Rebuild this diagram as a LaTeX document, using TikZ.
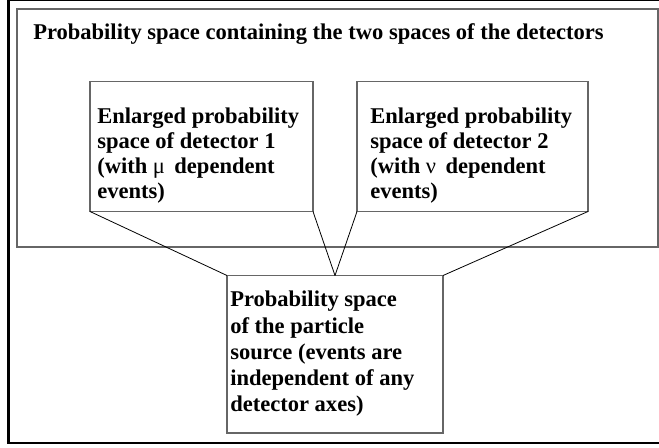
\documentclass[tikz,border=0pt]{standalone}
\usepackage{fontspec}
\setmainfont{Liberation Serif}

\begin{document}
\begin{tikzpicture}
    [
      x=0.75pt, y=-0.75pt,
      box/.style={draw=black!60, line width=0.8pt, inner sep=0pt, outer sep=0pt},
      txt/.style={anchor=north west, inner sep=0pt, align=left,
                  font=\bfseries\fontsize{16.9pt}{18.7pt}\selectfont},
      link/.style={black, line width=0.6pt},
    ]
    %
    \useasboundingbox (0, 0) rectangle (659, 448);
    \draw [black, line width=2.2pt] (8.5, 0) rectangle (662, 443);

    % boxes
    \node [box, minimum width=480.75pt, minimum height=178.5pt] (space)  at (337.5, 128) {};
    \node [box, minimum width=167.25pt, minimum height=97.5pt]  (detA)   at (201.5, 146.5) {};
    \node [box, minimum width=173.25pt, minimum height=97.5pt]  (detB)   at (472.5, 146.5) {};
    \node [box, minimum width=162pt,    minimum height=118.1pt] (source) at (335, 354.25) {};

    % texts
    \node [txt] (spaceT)  at (33, 23)   {Probability space containing the two spaces of the detectors};
    \node [txt] (detAT)   at (97, 108)  {Enlarged probability\\space of detector 1\\(with {\mdseries μ}\ \,dependent\\events)};
    \node [txt] (detBT)   at (370, 108) {Enlarged probability\\space of detector 2\\(with {\mdseries ν}\ \,dependent\\events)};
    \node [txt, font=\bfseries\fontsize{16.9pt}{19.7pt}\selectfont]
                (sourceT) at (230, 291) {Probability space\\of the particle\\source (events are\\independent of any\\detector axes)};

    % links
    \foreach \a/\b in {detA.south west/source.north west, detA.south east/source.north,
                       detB.south west/source.north, detB.south east/source.north east} {
      \draw [link] (\a) -- (\b);
    }
  \end{tikzpicture}
\end{document}
